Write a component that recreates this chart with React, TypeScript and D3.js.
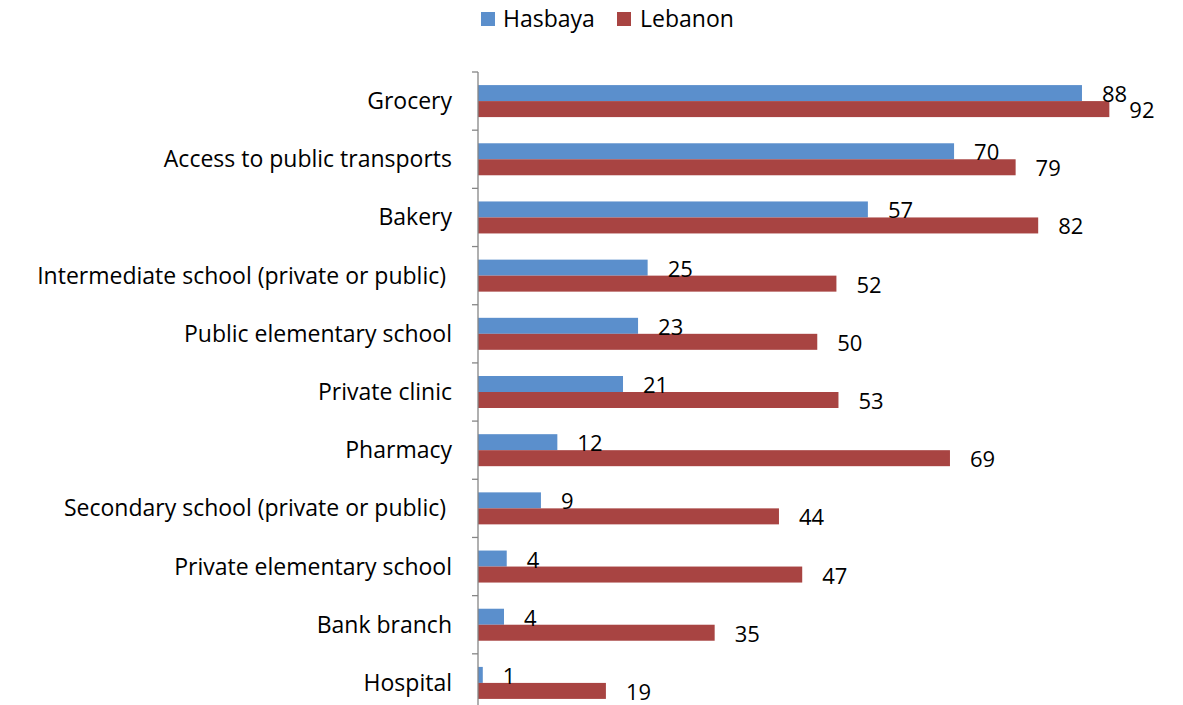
import React from "react";
import * as d3 from "d3";

const categories = [
  "Grocery",
  "Access to public transports",
  "Bakery",
  "Intermediate school (private or public) ",
  "Public elementary school",
  "Private clinic",
  "Pharmacy",
  "Secondary school (private or public) ",
  "Private elementary school",
  "Bank branch",
  "Hospital",
];
const hasbaya = [88.3, 69.6, 57.0, 24.8, 23.4, 21.2, 11.6, 9.2, 4.2, 3.8, 0.7];
const lebanon = [92.3, 78.6, 81.9, 52.4, 49.6, 52.7, 69.0, 44.0, 47.4, 34.6, 18.7];
const seriesNames = ["Hasbaya", "Lebanon"];

const W = 1183;
const H = 705;
const BLUE = "#5B8FCC";
const RED = "#A84442";
const FONT = "'Open Sans', 'Noto Sans', sans-serif";
const FS = 23;
const FSV = 22;

export default function App() {
  const x = d3.scaleLinear().domain([0, 100]).range([478, 1162]);
  const y = d3.scaleBand<string>().domain(categories).range([72, 712]).padding(0);
  const step = y.step();
  const barH = 16;
  const ticks = d3.range(categories.length + 1).map((i) => 72 + i * step);

  return (
    <svg
      width={W}
      height={H}
      style={{ position: "absolute", left: 0, top: 0, background: "#fff" }}
      fontFamily={FONT}
    >
      {/* legend */}
      <rect x={481} y={12} width={14} height={14} fill={BLUE} />
      <text x={503} y={27} fontSize={FS} fill="#000">{seriesNames[0]}</text>
      <rect x={617} y={12} width={14} height={14} fill={RED} />
      <text x={640} y={27} fontSize={FS} fill="#000">{seriesNames[1]}</text>

      {categories.map((c, i) => {
        const cy = (y(c) as number) + step / 2;
        return (
          <g key={c}>
            <rect x={x(0)} y={cy - barH} width={x(hasbaya[i]) - x(0)} height={barH} fill={BLUE} />
            <rect x={x(0)} y={cy} width={x(lebanon[i]) - x(0)} height={barH} fill={RED} />
            <text x={452} y={cy + 8} textAnchor="end" fontSize={FS} fill="#000" style={{ whiteSpace: "pre" }}>{c}</text>
            <text x={x(hasbaya[i]) + 20} y={cy + 1} fontSize={FSV} fill="#000">{Math.round(hasbaya[i])}</text>
            <text x={x(lebanon[i]) + 20} y={cy + 17} fontSize={FSV} fill="#000">{Math.round(lebanon[i])}</text>
          </g>
        );
      })}

      {/* axis */}
      <line x1={x(0)} x2={x(0)} y1={72} y2={H} stroke="#868686" strokeWidth={1.3} />
      {ticks.map((t, i) => (
        <line key={i} x1={x(0) - 6} x2={x(0)} y1={t} y2={t} stroke="#868686" strokeWidth={1.3} />
      ))}
    </svg>
  );
}
